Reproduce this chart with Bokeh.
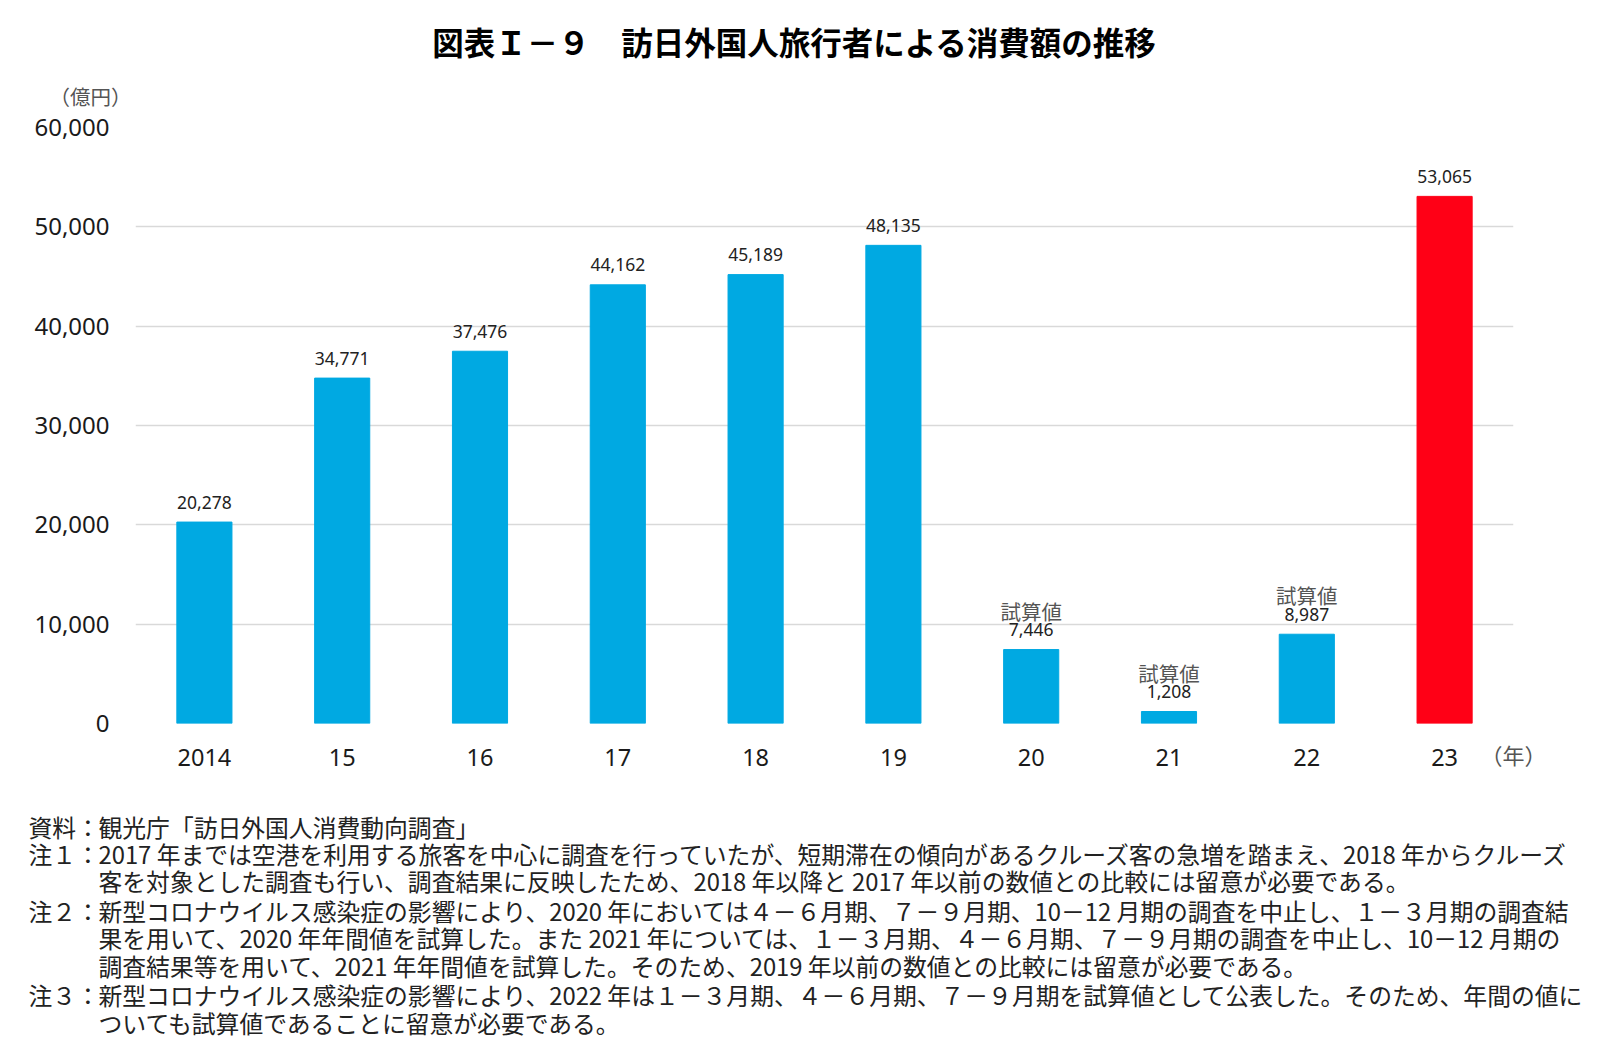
from bokeh.plotting import figure
from bokeh.layouts import column
from bokeh.models import ColumnDataSource, LabelSet, FixedTicker, NumeralTickFormatter, FactorRange, Range1d
from bokeh.core.properties import value
from bokeh.embed import file_html
from bokeh.resources import INLINE

# ---- data ----
years = ["2014", "15", "16", "17", "18", "19", "20", "21", "22", "23"]
values = [20278, 34771, 37476, 44162, 45189, 48135, 7446, 1208, 8987, 53065]
estimate = [False, False, False, False, False, False, True, True, True, False]
y_ticks = [0, 10000, 20000, 30000, 40000, 50000, 60000]

title_text = "図表Ｉ－９　訪日外国人旅行者による消費額の推移"
unit_y = "（億円）"
unit_x = "（年）"
est_text = "試算値"

note_heads = ["資料：", "注１：", "", "注２：", "", "", "注３：", ""]
note_lines = [
    "観光庁「訪日外国人消費動向調査」",
    "2017 年までは空港を利用する旅客を中心に調査を行っていたが、短期滞在の傾向があるクルーズ客の急増を踏まえ、2018 年からクルーズ",
    "客を対象とした調査も行い、調査結果に反映したため、2018 年以降と 2017 年以前の数値との比較には留意が必要である。",
    "新型コロナウイルス感染症の影響により、2020 年においては４－６月期、７－９月期、10－12 月期の調査を中止し、１－３月期の調査結",
    "果を用いて、2020 年年間値を試算した。また 2021 年については、１－３月期、４－６月期、７－９月期の調査を中止し、10－12 月期の",
    "調査結果等を用いて、2021 年年間値を試算した。そのため、2019 年以前の数値との比較には留意が必要である。",
    "新型コロナウイルス感染症の影響により、2022 年は１－３月期、４－６月期、７－９月期を試算値として公表した。そのため、年間の値に",
    "ついても試算値であることに留意が必要である。",
]

BLUE = "#00A9E2"
RED = "#FF0016"
colors = [RED if y == "23" else BLUE for y in years]
labels = [f"{v:,}" for v in values]

# ---- layout geometry (page px) ----
W = 1584
HEAD_H = 110
FL, FR, FT, FB = 135, 1513, 127, 723
CHART_BOTTOM = 790
NOTES_H = 252
JP = "Noto Sans CJK JP"

# ---- header ----
head = figure(frame_width=W, frame_height=HEAD_H, x_range=Range1d(0, W), y_range=Range1d(HEAD_H, 0),
              x_axis_type=None, y_axis_type=None, output_backend="svg", toolbar_location=None,
              min_border=0, outline_line_color=None)
head.frame_align = False
head.text(x=[794], y=[40], text=[title_text], text_align="center", text_baseline="middle",
          text_font=value(JP), text_font_style="bold", text_font_size="31.5px", text_color="#000000")
head.text(x=[90], y=[95.5], text=[unit_y], text_align="center", text_baseline="middle",
          text_font=value(JP), text_font_size="20.5px", text_color="#555555")

# ---- chart ----
src = ColumnDataSource(dict(x=years, top=values, color=colors, label=labels))
est_src = ColumnDataSource(dict(
    x=[y for y, e in zip(years, estimate) if e],
    top=[v for v, e in zip(values, estimate) if e],
    label=[est_text for e in estimate if e],
))

p = figure(width=W, height=CHART_BOTTOM - HEAD_H, x_range=FactorRange(*years, range_padding=0),
           y_range=Range1d(0, 60000), output_backend="svg", toolbar_location=None,
           min_border_left=FL, min_border_right=W - FR,
           min_border_top=FT - HEAD_H, min_border_bottom=CHART_BOTTOM - FB)
p.frame_align = False
p.outline_line_color = None

p.vbar(x="x", top="top", width=0.4, color="color", source=src)

p.xgrid.grid_line_color = None
p.ygrid.grid_line_color = "#D9D9D9"
p.ygrid.grid_line_width = 1.3
p.yaxis.ticker = FixedTicker(ticks=y_ticks)
p.yaxis.formatter = NumeralTickFormatter(format="0,0")
for ax in (p.xaxis[0], p.yaxis[0]):
    ax.axis_line_color = None
    ax.major_tick_line_color = None
    ax.minor_tick_line_color = None
    ax.major_tick_in = 0
    ax.major_tick_out = 0
    ax.major_label_text_font = "Noto Sans"
    ax.major_label_text_color = "#1a1a1a"
p.yaxis.major_label_text_font_size = "24px"
p.xaxis.major_label_text_font_size = "23.5px"
p.yaxis.major_label_standoff = 26
p.xaxis.major_label_standoff = 25

# year unit as the x-axis label, pulled up beside the last tick label
xa = p.xaxis[0]
xa.axis_label = unit_x
try:
    xa.axis_label_align = "end"
except ValueError:
    xa.axis_label_align = "right"
try:
    xa.axis_label_standoff = -31
except ValueError:
    xa.axis_label_standoff = 0
xa.axis_label_text_font = JP
xa.axis_label_text_font_style = "normal"
xa.axis_label_text_font_size = "22px"
xa.axis_label_text_color = "#555555"

p.add_layout(LabelSet(x="x", y="top", text="label", source=src, y_offset=20,
                      text_align="center", text_baseline="middle",
                      text_font=value("Noto Sans"), text_font_size="17.5px", text_color="#222222"))
p.add_layout(LabelSet(x="x", y="top", text="label", source=est_src, y_offset=39,
                      text_align="center", text_baseline="middle",
                      text_font=value(JP), text_font_size="20.5px", text_color="#555555"))

# ---- notes ----
notes = figure(frame_width=W, frame_height=NOTES_H, x_range=Range1d(0, W), y_range=Range1d(NOTES_H, 0),
               x_axis_type=None, y_axis_type=None, output_backend="svg", toolbar_location=None,
               min_border=0, outline_line_color=None)
notes.frame_align = False
line_y = [825.5, 853, 880, 909.5, 937, 964.5, 994, 1021.5]
hx, hy, ht = [], [], []
for h, Y in zip(note_heads, line_y):
    if h:
        hx.append(28); hy.append(Y - CHART_BOTTOM); ht.append(h)
notes.text(x=hx, y=hy, text=ht, text_baseline="middle", text_font=value(JP),
           text_font_size="23.8px", text_color="#222222")
notes.text(x=[98] * len(note_lines), y=[Y - CHART_BOTTOM for Y in line_y], text=note_lines,
           text_baseline="middle", text_font=value(JP), text_font_size="23.8px", text_color="#222222")

layout = column(head, p, notes, spacing=0)
open("out.html", "w").write(file_html(layout, INLINE))
